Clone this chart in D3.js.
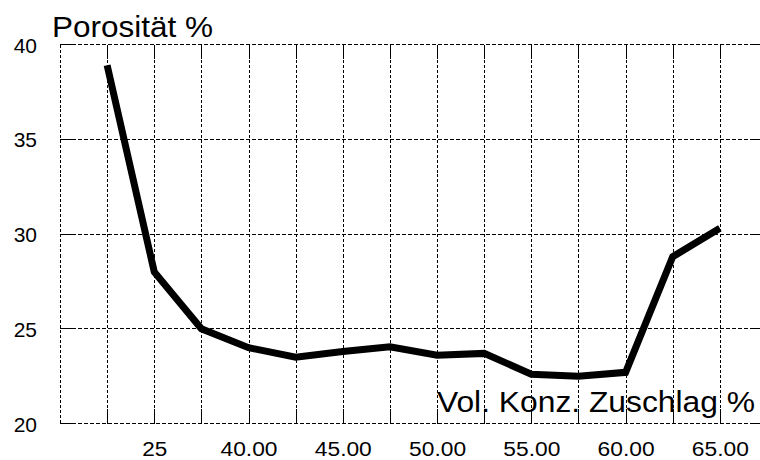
<!DOCTYPE html>
<html>
<head>
<meta charset="utf-8">
<script src="https://cdn.jsdelivr.net/npm/d3@7"></script>
<style>
  html, body { margin: 0; padding: 0; background: #fff; }
  svg { display: block; }
  text { font-family: "Liberation Sans", Arial, Helvetica, sans-serif; fill: #000; }
</style>
</head>
<body>
<script>
// ---- data ----
const xPositions = [1, 2, 3, 4, 5, 6, 7, 8, 9, 10, 11, 12, 13, 14];
const porositaet = [38.9, 28.0, 25.0, 24.0, 23.5, 23.8, 24.05, 23.6, 23.7, 22.6, 22.5, 22.7, 28.8, 30.3];
const xTickPositions = [2, 4, 6, 8, 10, 12, 14];
const xTickLabels = ["25", "40.00", "45.00", "50.00", "55.00", "60.00", "65.00"];
const yTicks = [20, 25, 30, 35, 40];
const yTitle = "Porosität %";
const xTitle = "Vol. Konz. Zuschlag %";

// ---- layout ----
const W = 760, H = 460;
const mLeft = 60, mRight = 767, mTop = 44.5, mBottom = 423.5;

const svg = d3.select("body").append("svg").attr("width", W).attr("height", H);

const x = d3.scaleLinear().domain([0, 15]).range([mLeft, mRight]);
const y = d3.scaleLinear().domain([20, 40]).range([mBottom, mTop]);

const gridG = svg.append("g").attr("shape-rendering", "crispEdges");
const xGrid = d3.range(0, 16);
const px = d => Math.round(x(d)) + 0.5;
// vertical dashed gridlines
gridG.selectAll("line.vg").data(xGrid).join("line").attr("class", "vg")
  .attr("x1", px).attr("x2", px)
  .attr("y1", y(40)).attr("y2", y(20))
  .attr("stroke", "#000").attr("stroke-width", 1).attr("stroke-dasharray", "3,2");
// vertical solid ticks top and bottom
gridG.selectAll("line.vt").data(xGrid.slice(1)).join("line").attr("class", "vt")
  .attr("x1", px).attr("x2", px)
  .attr("y1", y(40)).attr("y2", y(40) + 14)
  .attr("stroke", "#000").attr("stroke-width", 1);
gridG.selectAll("line.vb").data(xGrid.slice(1)).join("line").attr("class", "vb")
  .attr("x1", px).attr("x2", px)
  .attr("y1", y(20) - 15).attr("y2", y(20))
  .attr("stroke", "#000").attr("stroke-width", 1);
// horizontal dashed gridlines
gridG.selectAll("line.hg").data(yTicks).join("line").attr("class", "hg")
  .attr("x1", mLeft).attr("x2", mRight)
  .attr("y1", d => y(d)).attr("y2", d => y(d))
  .attr("stroke", "#000").attr("stroke-width", 1).attr("stroke-dasharray", "4,2");
// horizontal solid ticks left and right
gridG.selectAll("line.hl").data(yTicks).join("line").attr("class", "hl")
  .attr("x1", mLeft).attr("x2", mLeft + 16)
  .attr("y1", d => y(d)).attr("y2", d => y(d))
  .attr("stroke", "#000").attr("stroke-width", 1);
gridG.selectAll("line.hr").data(yTicks).join("line").attr("class", "hr")
  .attr("x1", mRight - 16).attr("x2", mRight)
  .attr("y1", d => y(d)).attr("y2", d => y(d))
  .attr("stroke", "#000").attr("stroke-width", 1);

// data line
const line = d3.line().x((d, i) => x(xPositions[i])).y(d => y(d));
svg.append("path").datum(porositaet)
  .attr("d", line)
  .attr("fill", "none").attr("stroke", "#000")
  .attr("stroke-width", 7).attr("stroke-linejoin", "miter").attr("stroke-linecap", "butt");

// y axis labels
const yAxis = svg.append("g").attr("transform", `translate(${mLeft},0)`)
  .call(d3.axisLeft(y).tickValues(yTicks).tickSize(0).tickPadding(23).tickFormat(d3.format("d")));
yAxis.select(".domain").remove();
yAxis.selectAll("text").attr("font-size", 21).attr("font-family", "Liberation Sans, Arial, sans-serif").attr("dy", "0.36em");

// x axis labels
const xAxis = svg.append("g").attr("transform", `translate(0,${mBottom})`)
  .call(d3.axisBottom(x).tickValues(xTickPositions).tickSize(0)
    .tickFormat((d, i) => xTickLabels[i]));
xAxis.select(".domain").remove();
xAxis.selectAll("text").attr("font-size", 20).attr("font-family", "Liberation Sans, Arial, sans-serif")
  .attr("y", 32).attr("dy", 0)
  .attr("textLength", d => (xTickLabels[xTickPositions.indexOf(d)].length === 2 ? 25 : 57))
  .attr("lengthAdjust", "spacingAndGlyphs");

// titles
svg.append("text").attr("x", 52).attr("y", 37)
  .attr("font-size", 29).attr("textLength", 161).attr("lengthAdjust", "spacingAndGlyphs")
  .text(yTitle);
svg.append("text").attr("x", 437).attr("y", 412)
  .attr("font-size", 30).attr("textLength", 318).attr("lengthAdjust", "spacingAndGlyphs")
  .text(xTitle);
</script>
</body>
</html>
